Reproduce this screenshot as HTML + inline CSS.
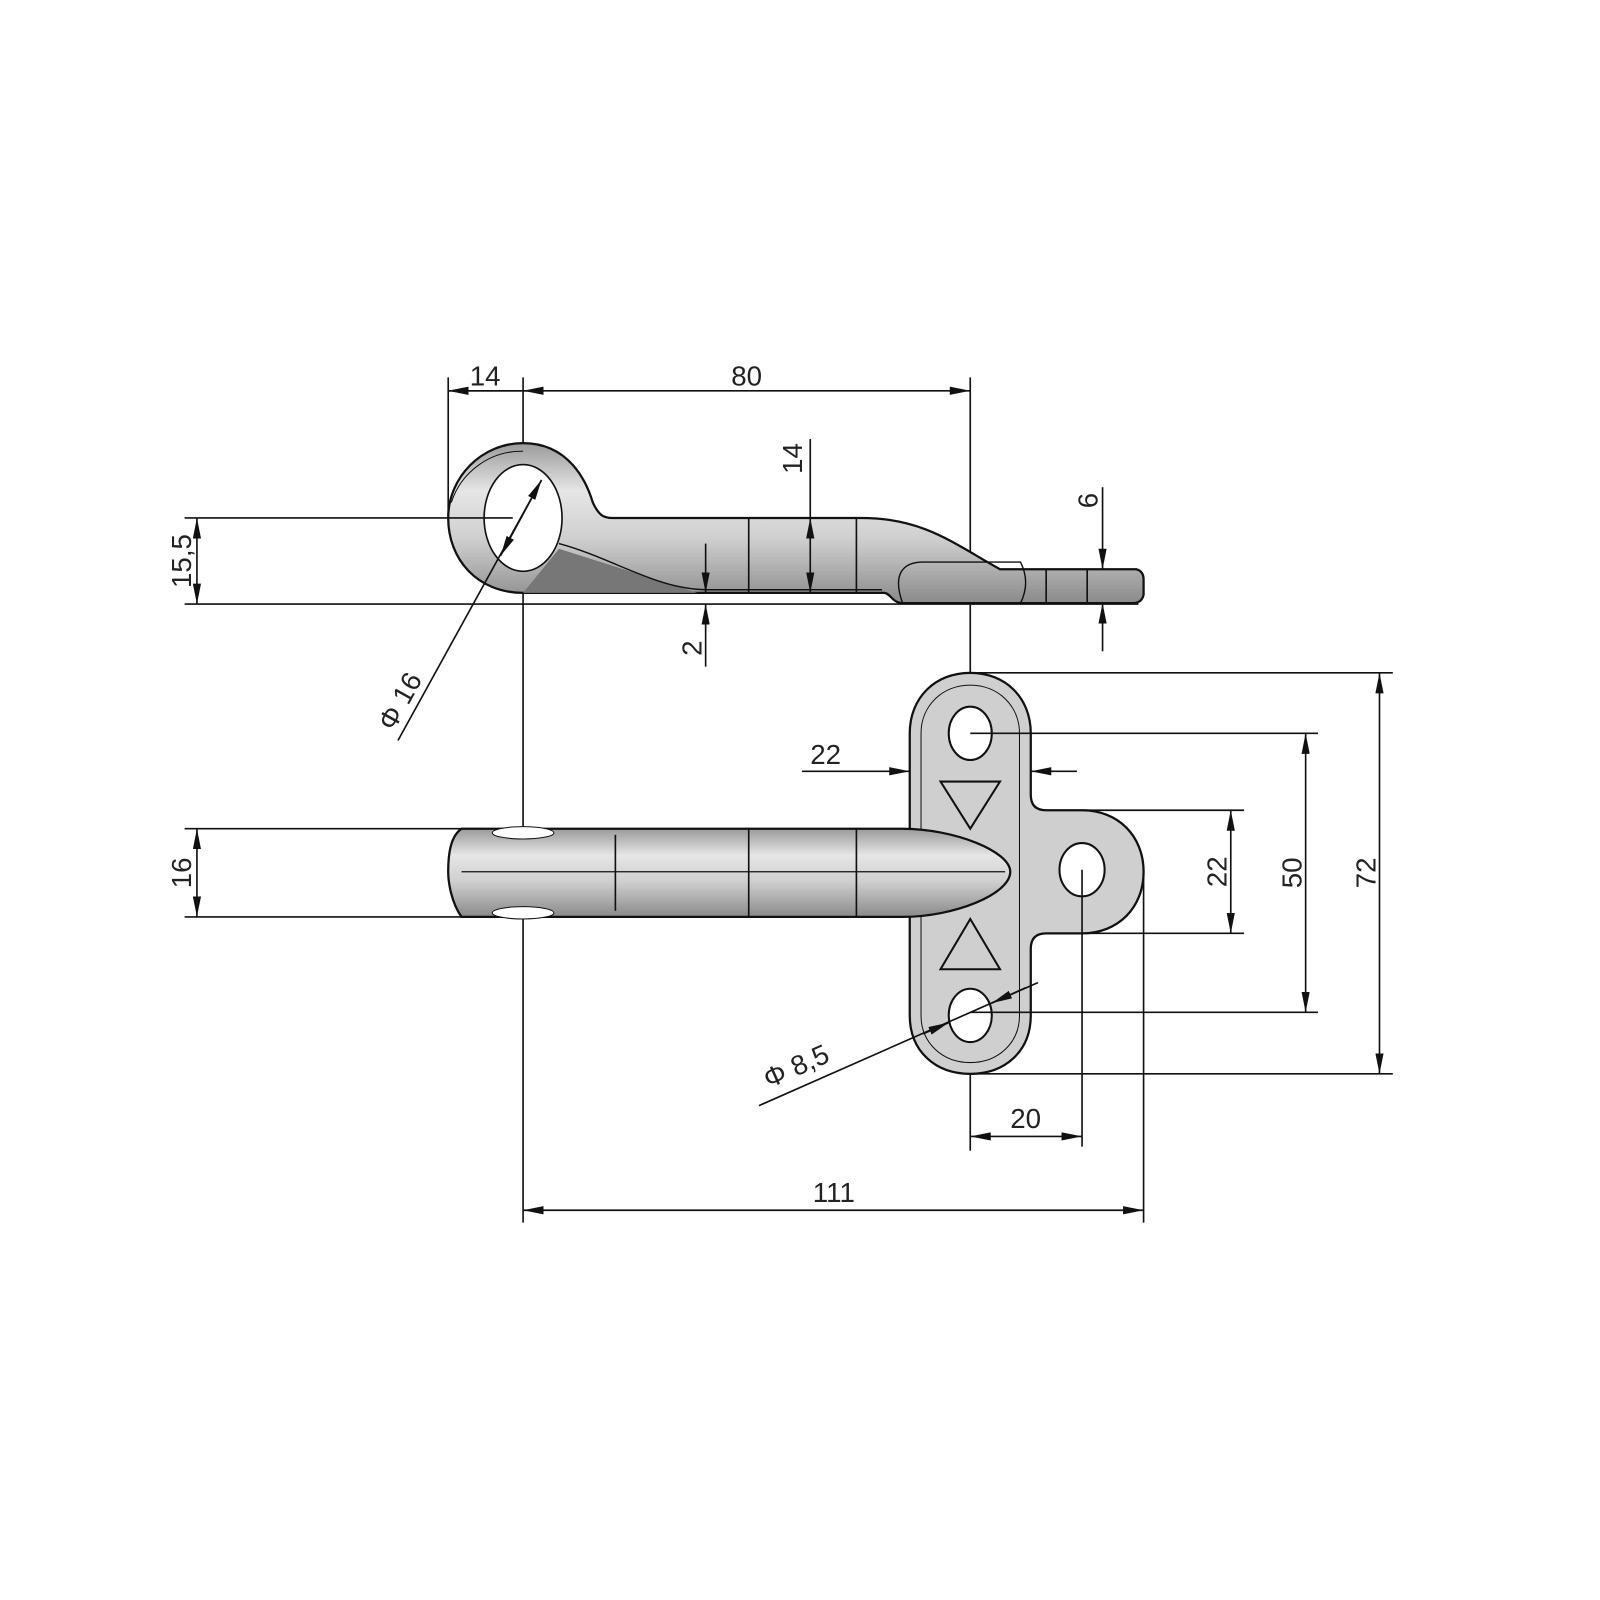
<!DOCTYPE html>
<html><head><meta charset="utf-8"><style>
html,body{margin:0;padding:0;background:#fff;width:1600px;height:1600px;overflow:hidden}
svg{display:block}
text{font-family:"Liberation Sans",sans-serif;font-size:27px;fill:#222}
</style></head><body>
<svg width="1600" height="1600" viewBox="0 0 1560 1560" xmlns="http://www.w3.org/2000/svg">
<defs>
<marker id="a" viewBox="0 0 20 8" refX="20" refY="4" markerWidth="20" markerHeight="8" orient="auto-start-reverse" markerUnits="userSpaceOnUse"><path d="M0,0 L20,4 L0,8 Z" fill="#111"/></marker>
<linearGradient id="g" x1="0" y1="0" x2="0" y2="1"><stop offset="0" stop-color="#9a9a9a"/><stop offset="0.3" stop-color="#e6e6e6"/><stop offset="0.6" stop-color="#cfcfcf"/><stop offset="1" stop-color="#8a8a8a"/></linearGradient>
</defs>
<g stroke="#111" fill="none" stroke-width="1.6">
<!-- main verticals -->
<line x1="510" y1="368" x2="510" y2="1192"/>
<line x1="946" y1="368" x2="946" y2="1122"/>
<line x1="437" y1="368" x2="437" y2="505"/>
<!-- top view part -->
<path d="M510,432 C555,432 572,470 578,490 C585,505 590,505 600,505 L840,505 C900,505 930,530 975,555 L1108,555 Q1115,557 1115,565 L1115,580 Q1113,588 1105,588 L880,588 C870,588 868,578 862,578 L510,578 C465,578 437,545 437,505 C437,465 470,432 510,432 Z" fill="url(#g)" stroke-width="2.2"/>
<ellipse cx="510" cy="505" rx="38" ry="52" fill="#fff"/>
<path d="M545,535 L680,578 L510,578 Z" fill="#777" stroke="none"/>
<path d="M545,530 C600,545 640,575 690,575 L860,575" stroke-width="1.4"/>
<path d="M880,588 C870,560 880,548 900,548 L995,548 Q1005,568 995,588" stroke-width="1.4"/>
<line x1="730" y1="505" x2="730" y2="578"/><line x1="835" y1="505" x2="835" y2="578"/>
<line x1="1020" y1="555" x2="1020" y2="588"/><line x1="1060" y1="555" x2="1060" y2="588"/>
<path d="M440,490 A72,72 0 0,1 510,440" stroke-width="1"/>
<!-- dims top -->
<line x1="437" y1="381" x2="946" y2="381" marker-start="url(#a)" marker-end="url(#a)"/>
<line x1="510" y1="381" x2="437" y2="381" marker-end="url(#a)"/>
<line x1="510" y1="381" x2="530" y2="381" marker-start="url(#a)"/>
<line x1="180" y1="505" x2="500" y2="505"/>
<line x1="180" y1="589" x2="1110" y2="589"/>
<line x1="192" y1="505" x2="192" y2="589" marker-start="url(#a)" marker-end="url(#a)"/>
<line x1="790" y1="428" x2="790" y2="505"/>
<line x1="790" y1="505" x2="790" y2="578" marker-start="url(#a)" marker-end="url(#a)"/>
<line x1="688" y1="530" x2="688" y2="578" marker-end="url(#a)"/>
<line x1="688" y1="650" x2="688" y2="589" marker-end="url(#a)"/>
<line x1="1075" y1="475" x2="1075" y2="555" marker-end="url(#a)"/>
<line x1="1075" y1="635" x2="1075" y2="588" marker-end="url(#a)"/>
<line x1="388" y1="722" x2="528" y2="468" marker-end="url(#a)"/>
<line x1="528" y1="468" x2="488" y2="542" marker-end="url(#a)"/>
<!-- plate -->
<path d="M946,656 C980,656 1005,680 1005,715 L1005,775 Q1005,790 1020,790 L1055,790 C1090,790 1115,815 1115,850 C1115,885 1090,910 1055,910 L1020,910 Q1005,910 1005,925 L1005,990 C1005,1025 980,1047 946,1047 C912,1047 887,1025 887,990 L887,715 C887,680 912,656 946,656 Z" fill="#cfcfcf" stroke-width="2.2"/>
<path d="M946,668 C973,668 994,688 994,715 L994,990 C994,1017 973,1036 946,1036 C919,1036 898,1017 898,990 L898,715 C898,688 919,668 946,668 Z" stroke-width="1"/>
<ellipse cx="946" cy="715" rx="21" ry="26" fill="#fff" stroke-width="2"/>
<ellipse cx="946" cy="990" rx="21" ry="26" fill="#fff" stroke-width="2"/>
<ellipse cx="1055" cy="848" rx="22" ry="26" fill="#fff" stroke-width="2"/>
<path d="M917,762 L975,762 L946,808 Z" stroke-width="2"/>
<path d="M917,945 L975,945 L946,896 Z" stroke-width="2"/>
<!-- shaft -->
<path d="M450,808 L880,808 C930,808 985,830 985,850 C985,872 930,894 880,894 L450,894 C440,880 437,860 437,850 C437,830 440,815 450,808 Z" fill="url(#g)" stroke-width="2.2"/>
<line x1="600" y1="814" x2="600" y2="888"/><line x1="730" y1="808" x2="730" y2="894"/><line x1="835" y1="808" x2="835" y2="894"/>
<line x1="450" y1="850" x2="980" y2="850" stroke-width="1.2"/>
<ellipse cx="510" cy="812" rx="30" ry="6" fill="#fff" stroke-width="1"/>
<ellipse cx="510" cy="890" rx="30" ry="6" fill="#fff" stroke-width="1"/>
<!-- dims bottom -->
<line x1="180" y1="808" x2="470" y2="808"/><line x1="180" y1="894" x2="470" y2="894"/>
<line x1="192" y1="808" x2="192" y2="894" marker-start="url(#a)" marker-end="url(#a)"/>
<line x1="946" y1="656" x2="1358" y2="656"/><line x1="946" y1="1047" x2="1358" y2="1047"/>
<line x1="1345" y1="656" x2="1345" y2="1047" marker-start="url(#a)" marker-end="url(#a)"/>
<line x1="946" y1="715" x2="1285" y2="715"/><line x1="946" y1="987" x2="1285" y2="987"/>
<line x1="1273" y1="715" x2="1273" y2="987" marker-start="url(#a)" marker-end="url(#a)"/>
<line x1="1055" y1="790" x2="1213" y2="790"/><line x1="1055" y1="910" x2="1213" y2="910"/>
<line x1="1200" y1="790" x2="1200" y2="910" marker-start="url(#a)" marker-end="url(#a)"/>
<line x1="782" y1="752" x2="887" y2="752" marker-end="url(#a)"/>
<line x1="1050" y1="752" x2="1005" y2="752" marker-end="url(#a)"/>
<line x1="1055" y1="848" x2="1055" y2="1118"/>
<line x1="946" y1="1108" x2="1055" y2="1108" marker-start="url(#a)" marker-end="url(#a)"/>
<line x1="1115" y1="850" x2="1115" y2="1192"/>
<line x1="510" y1="1180" x2="1115" y2="1180" marker-start="url(#a)" marker-end="url(#a)"/>
<line x1="740" y1="1078" x2="1012" y2="958"/>
<line x1="900" y1="1008" x2="925" y2="997" marker-end="url(#a)"/>
<line x1="1000" y1="963" x2="967" y2="978" marker-end="url(#a)"/>
</g>
<text x="473" y="376" text-anchor="middle">14</text>
<text x="728" y="376" text-anchor="middle">80</text>
<text transform="translate(186,547) rotate(-90)" text-anchor="middle">15,5</text>
<text transform="translate(782,447) rotate(-90)" text-anchor="middle">14</text>
<text transform="translate(684,632) rotate(-90)" text-anchor="middle">2</text>
<text transform="translate(1070,488) rotate(-90)" text-anchor="middle">6</text>
<text transform="translate(398,688) rotate(-61)" text-anchor="middle">Φ 16</text>
<text transform="translate(186,851) rotate(-90)" text-anchor="middle">16</text>
<text x="805" y="745" text-anchor="middle">22</text>
<text transform="translate(1196,850) rotate(-90)" text-anchor="middle">22</text>
<text transform="translate(1269,851) rotate(-90)" text-anchor="middle">50</text>
<text transform="translate(1341,851) rotate(-90)" text-anchor="middle">72</text>
<text x="1000" y="1100" text-anchor="middle">20</text>
<text x="813" y="1172" text-anchor="middle">111</text>
<text transform="translate(780,1048) rotate(-24)" text-anchor="middle">Φ 8,5</text>
</svg>
</body></html>
